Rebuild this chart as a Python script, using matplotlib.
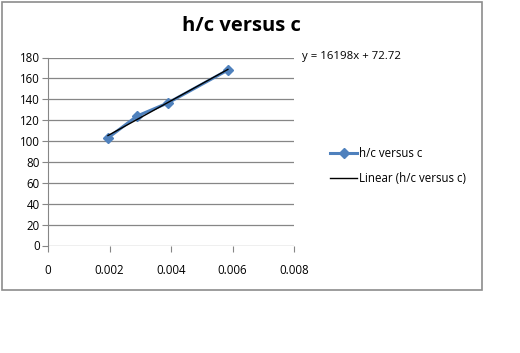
import numpy as np
import matplotlib.pyplot as plt
from matplotlib.patches import Rectangle
from matplotlib.lines import Line2D

# data
c = [0.00195, 0.0029, 0.0039, 0.00585]
hc = [103, 124, 136.5, 168]
eq_text = "y = 16198x + 72.72"
x_ticks = [0, 0.002, 0.004, 0.006, 0.008]
x_labels = ["0", "0.002", "0.004", "0.006", "0.008"]
y_ticks = list(range(0, 181, 20))

plt.rcParams['font.family'] = ['Open Sans', 'DejaVu Sans']
W, H = 520, 353
fig = plt.figure(figsize=(W / 100, H / 100), dpi=100)

# chart frame
fig.patches.append(Rectangle((1.5 / W, 1 - 289.5 / H), 480 / W, 288 / H,
                             transform=fig.transFigure, fill=False,
                             edgecolor='#8c8c8c', linewidth=1.2))

ax = fig.add_axes([48 / W, 1 - 245.5 / H, 246 / W, 188 / H])
grid_c = '#868686'
for v in y_ticks:
    ax.axhline(v, color=grid_c, linewidth=0.9, zorder=1)

ax.plot(c, hc, color='#4F81BD', linewidth=2.2, marker='D', markersize=5.5,
        label='h/c versus c', zorder=3)
slope, icpt = np.polyfit(c, hc, 1)
xf = np.array([min(c), max(c)])
ax.plot(xf, slope * xf + icpt, color='black', linewidth=1, zorder=4)

ax.set_xlim(0, 0.008)
ax.set_ylim(0, 180)
ax.set_xticks(x_ticks)
ax.set_xticklabels(x_labels)
ax.set_yticks(y_ticks)
for s in ['top', 'right', 'bottom']:
    ax.spines[s].set_visible(False)
ax.spines['left'].set_color(grid_c)
ax.tick_params(axis='both', direction='out', length=4, color=grid_c,
               labelsize=8.3, labelcolor='black')
ax.tick_params(axis='x', pad=9)
ax.tick_params(axis='y', pad=2)
ax.patch.set_alpha(0)

fig.text(241 / W, 1 - 26 / H, "h/c versus c", ha='center', va='center',
         fontsize=14.5, fontweight='bold')
fig.text(302 / W, 1 - 56 / H, eq_text, ha='left', va='center', fontsize=8.2)

handles = [Line2D([], [], color='#4F81BD', linewidth=2.2, marker='D', markersize=5),
           Line2D([], [], color='black', linewidth=1)]
fig.legend(handles, ['h/c versus c', 'Linear (h/c versus c)'],
           loc='center left', bbox_to_anchor=(320 / W, 1 - 166 / H),
           frameon=False, fontsize=8.3, handlelength=2.3, handletextpad=0.2,
           labelspacing=1.1)

fig.savefig("out.png", dpi=100)
